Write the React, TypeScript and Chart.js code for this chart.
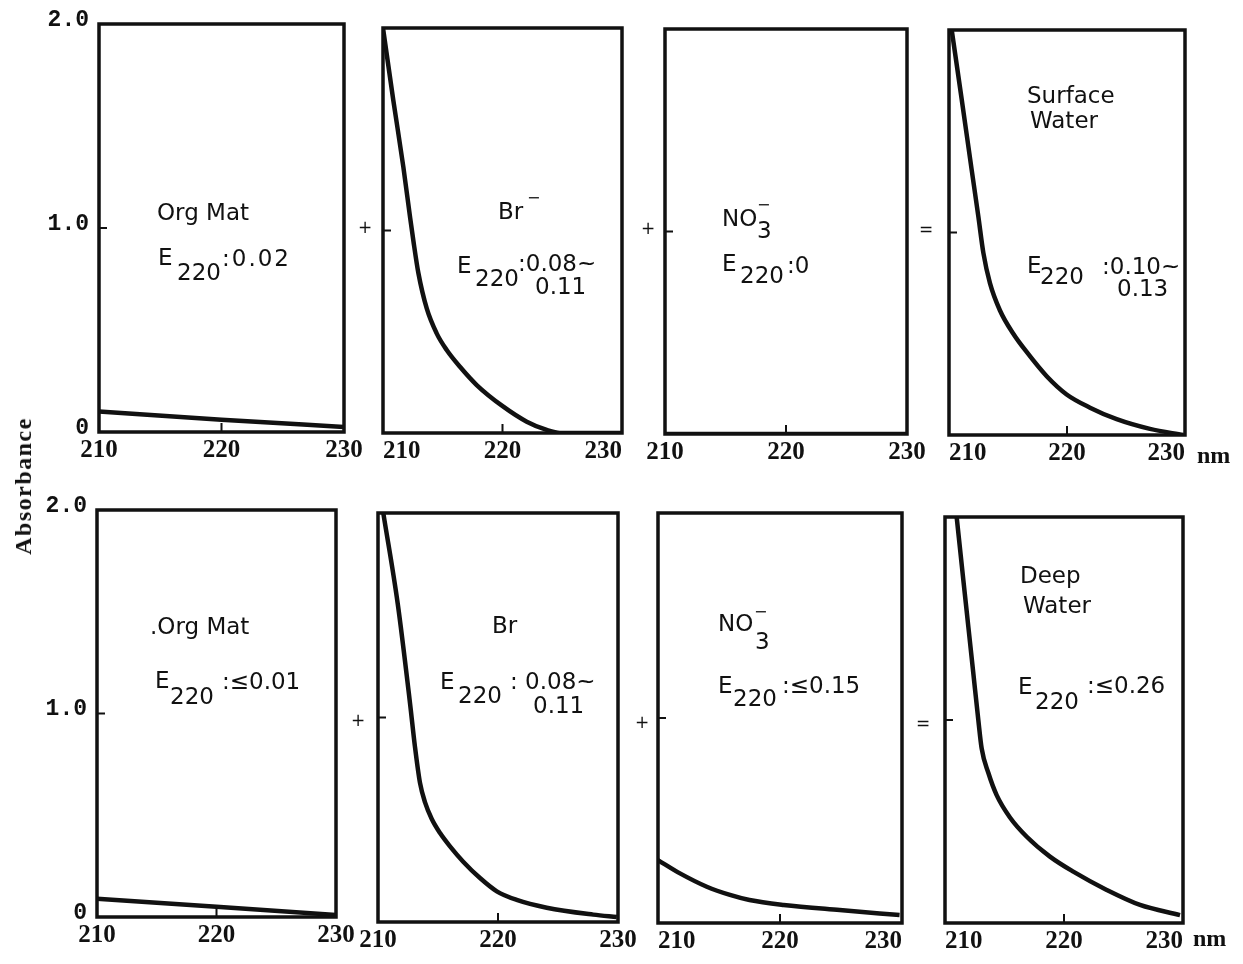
import React, { useEffect, useRef } from 'react';
import { Chart, registerables } from 'chart.js';

Chart.register(...registerables);

// ---------- data (wavelength in nm, absorbance) ----------
const orgMatSurfaceNm = [210, 220, 230];
const orgMatSurfaceAbs = [0.1, 0.06, 0.025];

const bromideSurfaceNm = [210, 210.86, 211.7, 212.26, 212.54, 212.96, 213.66, 214.49, 215.33, 216.44, 217.84, 220.07, 222.03, 223.7, 224.81, 227, 230];
const bromideSurfaceAbs = [2.0, 1.644, 1.315, 1.068, 0.95, 0.79, 0.615, 0.492, 0.41, 0.327, 0.237, 0.13, 0.056, 0.015, 0.0, 0.0, 0.0];

const nitrateSurfaceNm = [210, 220, 230];
const nitrateSurfaceAbs = [0, 0, 0];

const surfaceWaterNm = [210.23, 211.07, 211.92, 212.49, 212.91, 213.47, 214.32, 215.45, 216.58, 218.28, 219.97, 221.95, 224.21, 227.03, 229.86];
const surfaceWaterAbs = [2.0, 1.66, 1.31, 1.078, 0.9, 0.75, 0.615, 0.5, 0.41, 0.29, 0.2, 0.135, 0.078, 0.03, 0.0];

const orgMatDeepNm = [210, 220, 230];
const orgMatDeepAbs = [0.09, 0.05, 0.01];

const bromideDeepNm = [210.44, 211.64, 212.67, 213.08, 213.5, 213.92, 214.47, 215.17, 216.0, 217.1, 218.5, 219.9, 221.56, 224.06, 227.94, 229.9];
const bromideDeepAbs = [2.0, 1.558, 1.069, 0.857, 0.68, 0.585, 0.505, 0.435, 0.37, 0.295, 0.215, 0.15, 0.108, 0.07, 0.036, 0.024];

const nitrateDeepNm = [210.0, 211.8, 214.0, 215.9, 217.5, 220.3, 224.9, 229.8];
const nitrateDeepAbs = [0.307, 0.242, 0.177, 0.137, 0.112, 0.088, 0.063, 0.039];

const deepWaterNm = [210.98, 211.54, 211.96, 212.38, 212.8, 213.08, 213.64, 214.34, 215.46, 216.87, 218.82, 220.78, 223.59, 226.39, 229.75];
const deepWaterAbs = [2.0, 1.69, 1.46, 1.23, 1.0, 0.86, 0.74, 0.63, 0.52, 0.425, 0.327, 0.253, 0.163, 0.089, 0.039];

const xTickValues = [210, 220, 230];
const xTickLabels = ['210', '220', '230'];
const yTickValues = [0, 1, 2];
const yTickLabels = ['0', '1.0', '2.0'];

// ---------- layout ----------
type Rect = { l: number; r: number; t: number; b: number };

const INK = '#111';

const framePlugin = {
  id: 'frame',
  afterDatasetsDraw(chart: any) {
    const { ctx, chartArea, scales } = chart;
    const { left, top, right, bottom } = chartArea;
    ctx.save();
    ctx.strokeStyle = INK;
    ctx.lineWidth = 3.5;
    ctx.strokeRect(left, top, right - left, bottom - top);
    ctx.lineWidth = 2;
    ctx.beginPath();
    const yp = scales.y.getPixelForValue(yTickValues[1]);
    ctx.moveTo(left, yp);
    ctx.lineTo(left + 8, yp);
    const xp = scales.x.getPixelForValue(xTickValues[1]);
    ctx.moveTo(xp, bottom);
    ctx.lineTo(xp, bottom - 9);
    ctx.stroke();
    ctx.restore();
  },
};

function Panel({
  nm,
  abs,
  rect,
  showY,
  xAlign,
}: {
  nm: number[];
  abs: number[];
  rect: Rect;
  showY: boolean;
  xAlign: string;
}) {
  const ref = useRef<HTMLCanvasElement>(null);
  const padL = showY ? 62 : 24;
  const padR = 24;
  const padT = 20;
  const padB = 40;
  const w = rect.r - rect.l + padL + padR;
  const h = rect.b - rect.t + padT + padB;

  useEffect(() => {
    const chart = new Chart(ref.current as HTMLCanvasElement, {
      type: 'line',
      data: {
        datasets: [
          {
            data: nm.map((x, i) => ({ x, y: abs[i] })),
            borderColor: INK,
            borderWidth: 4.5,
            pointRadius: 0,
            fill: false,
            cubicInterpolationMode: 'monotone',
          } as any,
        ],
      },
      options: {
        responsive: false,
        animation: false,
        devicePixelRatio: 1,
        events: [],
        layout: { padding: { left: 0, right: padR, top: padT, bottom: 0 } },
        plugins: { legend: { display: false }, tooltip: { enabled: false } },
        scales: {
          x: {
            type: 'linear',
            min: 210,
            max: 230,
            grid: { display: false, drawTicks: false },
            border: { display: false },
            afterBuildTicks: (s: any) => {
              s.ticks = xTickValues.map((v) => ({ value: v }));
            },
            afterFit: (s: any) => {
              s.height = padB;
              s.paddingLeft = 0;
              s.paddingRight = 0;
            },
            ticks: {
              autoSkip: false,
              maxRotation: 0,
              padding: 4,
              align: xAlign,
              color: INK,
              font: { family: '"Liberation Serif", serif', weight: 'bold', size: 25 },
              callback: (v: any) => xTickLabels[xTickValues.indexOf(Number(v))],
            },
          },
          y: {
            type: 'linear',
            min: 0,
            max: 2,
            grid: { display: false, drawTicks: false },
            border: { display: false },
            afterBuildTicks: (s: any) => {
              s.ticks = yTickValues.map((v) => ({ value: v }));
            },
            afterFit: (s: any) => {
              s.width = padL;
              s.paddingTop = 0;
              s.paddingBottom = 0;
            },
            ticks: {
              display: showY,
              autoSkip: false,
              padding: 10,
              labelOffset: -4,
              color: INK,
              font: { family: '"Liberation Mono", monospace', weight: 'bold', size: 23 },
              callback: (v: any) => yTickLabels[yTickValues.indexOf(Number(v))],
            },
          },
        },
      } as any,
      plugins: [framePlugin],
    });
    return () => chart.destroy();
  }, []);

  return (
    <canvas
      ref={ref}
      width={w}
      height={h}
      style={{ position: 'absolute', left: rect.l - padL, top: rect.t - padT, width: w, height: h }}
    />
  );
}

// text placed by cap-top (y) and left (x)
function T({ x, y, s = 23, ls = 0, children }: { x: number; y: number; s?: number; ls?: number; children: any }) {
  return (
    <div
      style={{
        position: 'absolute',
        left: x,
        top: y - Math.round(s * 0.116),
        fontFamily: '"DejaVu Sans", sans-serif',
        fontSize: s,
        lineHeight: 1,
        letterSpacing: ls,
        whiteSpace: 'pre',
        color: INK,
      }}
    >
      {children}
    </div>
  );
}

// minus bar placed by its center line y
function Minus({ x, y }: { x: number; y: number }) {
  return (
    <div
      style={{
        position: 'absolute',
        left: x,
        top: y - 8.4,
        fontFamily: '"DejaVu Sans", sans-serif',
        fontSize: 16,
        lineHeight: 1,
        color: INK,
      }}
    >
      −
    </div>
  );
}

function Op({ x, y, children }: { x: number; y: number; children: any }) {
  return (
    <div
      style={{
        position: 'absolute',
        left: x,
        top: y,
        transform: 'translate(-50%, -50%)',
        fontFamily: '"DejaVu Sans", sans-serif',
        fontSize: 17,
        lineHeight: 1,
        color: INK,
      }}
    >
      {children}
    </div>
  );
}

const serifBold = {
  position: 'absolute' as const,
  fontFamily: '"Liberation Serif", serif',
  fontWeight: 'bold' as const,
  fontSize: 24,
  lineHeight: 1,
  color: INK,
};

export default function App() {
  return (
    <div
      style={{
        position: 'absolute',
        left: 0,
        top: 0,
        width: 1243,
        height: 964,
        background: '#fff',
        overflow: 'hidden',
      }}
    >
      <Panel nm={orgMatSurfaceNm} abs={orgMatSurfaceAbs} rect={{ l: 99, r: 344, t: 24, b: 432 }} showY xAlign="center" />
      <Panel nm={bromideSurfaceNm} abs={bromideSurfaceAbs} rect={{ l: 383, r: 622, t: 28, b: 433 }} showY={false} xAlign="inner" />
      <Panel nm={nitrateSurfaceNm} abs={nitrateSurfaceAbs} rect={{ l: 665, r: 907, t: 29, b: 434 }} showY={false} xAlign="center" />
      <Panel nm={surfaceWaterNm} abs={surfaceWaterAbs} rect={{ l: 949, r: 1185, t: 30, b: 435 }} showY={false} xAlign="inner" />
      <Panel nm={orgMatDeepNm} abs={orgMatDeepAbs} rect={{ l: 97, r: 336, t: 510, b: 917 }} showY xAlign="center" />
      <Panel nm={bromideDeepNm} abs={bromideDeepAbs} rect={{ l: 378, r: 618, t: 513, b: 922 }} showY={false} xAlign="center" />
      <Panel nm={nitrateDeepNm} abs={nitrateDeepAbs} rect={{ l: 658, r: 902, t: 513, b: 923 }} showY={false} xAlign="inner" />
      <Panel nm={deepWaterNm} abs={deepWaterAbs} rect={{ l: 945, r: 1183, t: 517, b: 923 }} showY={false} xAlign="inner" />

      {/* Panel 1 */}
      <T x={157} y={204}>Org Mat</T>
      <T x={158} y={249}>E</T>
      <T x={177} y={264}>220</T>
      <T x={222} y={250} ls={2}>:0.02</T>

      {/* Panel 2 */}
      <T x={498} y={203}>Br</T>
      <Minus x={527} y={198} />
      <T x={457} y={257}>E</T>
      <T x={475} y={270}>220</T>
      <T x={518} y={255}>:0.08~</T>
      <T x={535} y={278}>0.11</T>

      {/* Panel 3 */}
      <T x={722} y={210}>NO</T>
      <T x={757} y={222}>3</T>
      <Minus x={757} y={205} />
      <T x={722} y={255}>E</T>
      <T x={740} y={267}>220</T>
      <T x={787} y={257}>:0</T>

      {/* Panel 4 */}
      <T x={1027} y={87}>Surface</T>
      <T x={1030} y={112}>Water</T>
      <T x={1027} y={257}>E</T>
      <T x={1040} y={268}>220</T>
      <T x={1102} y={258}>:0.10~</T>
      <T x={1117} y={280}>0.13</T>

      {/* Panel 5 */}
      <T x={150} y={618}>.Org Mat</T>
      <T x={155} y={672}>E</T>
      <T x={170} y={688}>220</T>
      <T x={222} y={673}>:≤0.01</T>

      {/* Panel 6 */}
      <T x={492} y={617}>Br</T>
      <T x={440} y={673}>E</T>
      <T x={458} y={687}>220</T>
      <T x={510} y={673}>: 0.08~</T>
      <T x={533} y={697}>0.11</T>

      {/* Panel 7 */}
      <T x={718} y={615}>NO</T>
      <T x={755} y={633}>3</T>
      <Minus x={754} y={612} />
      <T x={718} y={677}>E</T>
      <T x={733} y={690}>220</T>
      <T x={782} y={677}>:≤0.15</T>

      {/* Panel 8 */}
      <T x={1020} y={567}>Deep</T>
      <T x={1023} y={597}>Water</T>
      <T x={1018} y={678}>E</T>
      <T x={1035} y={693}>220</T>
      <T x={1087} y={677}>:≤0.26</T>

      {/* operators */}
      <Op x={365} y={227}>+</Op>
      <Op x={648} y={228}>+</Op>
      <Op x={926} y={229}>=</Op>
      <Op x={358} y={720}>+</Op>
      <Op x={642} y={722}>+</Op>
      <Op x={923} y={723}>=</Op>

      {/* units and axis title */}
      <div style={{ ...serifBold, left: 1197, top: 443 }}>nm</div>
      <div style={{ ...serifBold, left: 1193, top: 926 }}>nm</div>
      <div
        style={{
          ...serifBold,
          fontSize: 24,
          letterSpacing: 1.5,
          left: 23,
          top: 486,
          transform: 'translate(-50%, -50%) rotate(-90deg)',
          whiteSpace: 'nowrap',
        }}
      >
        Absorbance
      </div>
    </div>
  );
}
